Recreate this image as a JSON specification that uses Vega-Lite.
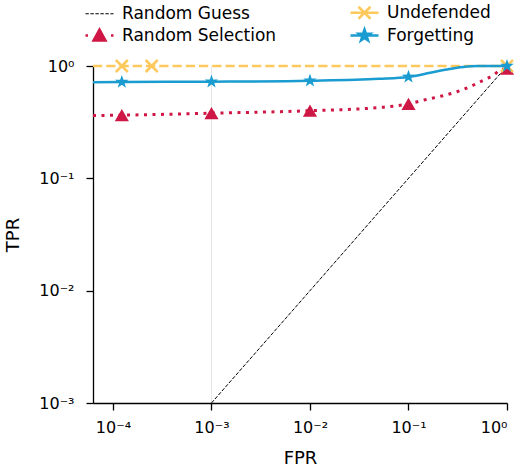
{
  "$schema": "https://vega.github.io/schema/vega-lite/v6.json",
  "autosize": {"type": "none"},
  "padding": {"left": 93, "top": 66, "right": 14, "bottom": 64},
  "width": 414,
  "height": 337,
  "background": "white",
  "config": {
    "view": {"stroke": null},
    "font": "DejaVu Sans",
    "axis": {
      "grid": false,
      "domainColor": "black",
      "domainWidth": 1.3,
      "tickColor": "black",
      "tickWidth": 1.3,
      "tickSize": 7,
      "labelFont": "DejaVu Sans",
      "labelFontSize": 16,
      "labelColor": "black",
      "titleFont": "DejaVu Sans",
      "titleFontSize": 18,
      "titleFontWeight": "normal",
      "titleColor": "black"
    },
    "legend": {
      "orient": "none",
      "legendX": -5,
      "legendY": -65,
      "columns": 2,
      "columnPadding": 68,
      "rowPadding": -3,
      "symbolSize": 400,
      "labelFont": "DejaVu Sans",
      "labelFontSize": 17,
      "labelColor": "black",
      "labelOffset": 11,
      "labelLimit": 400
    }
  },
  "datasets": {
    "curves": [
      {"series": "Random Guess", "fpr": 0.001, "tpr": 0.001},
      {"series": "Random Guess", "fpr": 1, "tpr": 1},
      {"series": "Random Selection", "fpr": 0.0000627, "tpr": 0.362},
      {"series": "Random Selection", "fpr": 0.000123, "tpr": 0.365},
      {"series": "Random Selection", "fpr": 0.001, "tpr": 0.38},
      {"series": "Random Selection", "fpr": 0.01, "tpr": 0.40},
      {"series": "Random Selection", "fpr": 0.056, "tpr": 0.43},
      {"series": "Random Selection", "fpr": 0.1, "tpr": 0.46},
      {"series": "Random Selection", "fpr": 0.147, "tpr": 0.50},
      {"series": "Random Selection", "fpr": 0.217, "tpr": 0.54},
      {"series": "Random Selection", "fpr": 0.31, "tpr": 0.59},
      {"series": "Random Selection", "fpr": 0.43, "tpr": 0.66},
      {"series": "Random Selection", "fpr": 0.51, "tpr": 0.71},
      {"series": "Random Selection", "fpr": 0.62, "tpr": 0.77},
      {"series": "Random Selection", "fpr": 0.73, "tpr": 0.83},
      {"series": "Random Selection", "fpr": 0.835, "tpr": 0.91},
      {"series": "Random Selection", "fpr": 1, "tpr": 0.95},
      {"series": "Undefended", "fpr": 0.0000627, "tpr": 1},
      {"series": "Undefended", "fpr": 1, "tpr": 1},
      {"series": "Forgetting", "fpr": 0.0000627, "tpr": 0.716},
      {"series": "Forgetting", "fpr": 0.000123, "tpr": 0.72},
      {"series": "Forgetting", "fpr": 0.001, "tpr": 0.725},
      {"series": "Forgetting", "fpr": 0.01, "tpr": 0.74},
      {"series": "Forgetting", "fpr": 0.05, "tpr": 0.77},
      {"series": "Forgetting", "fpr": 0.1, "tpr": 0.80},
      {"series": "Forgetting", "fpr": 0.166, "tpr": 0.87},
      {"series": "Forgetting", "fpr": 0.245, "tpr": 0.93},
      {"series": "Forgetting", "fpr": 0.36, "tpr": 0.98},
      {"series": "Forgetting", "fpr": 0.5, "tpr": 1.0},
      {"series": "Forgetting", "fpr": 1, "tpr": 1.0}
    ],
    "markers": [
      {"series": "Random Selection", "fpr": 0.000123, "tpr": 0.365},
      {"series": "Random Selection", "fpr": 0.001, "tpr": 0.38},
      {"series": "Random Selection", "fpr": 0.01, "tpr": 0.40},
      {"series": "Random Selection", "fpr": 0.1, "tpr": 0.46},
      {"series": "Random Selection", "fpr": 1, "tpr": 0.95},
      {"series": "Undefended", "fpr": 0.000123, "tpr": 1},
      {"series": "Undefended", "fpr": 0.000247, "tpr": 1},
      {"series": "Undefended", "fpr": 1, "tpr": 1},
      {"series": "Forgetting", "fpr": 0.000123, "tpr": 0.72},
      {"series": "Forgetting", "fpr": 0.001, "tpr": 0.725},
      {"series": "Forgetting", "fpr": 0.01, "tpr": 0.74},
      {"series": "Forgetting", "fpr": 0.1, "tpr": 0.80},
      {"series": "Forgetting", "fpr": 1, "tpr": 1.0}
    ],
    "grid": [{"fpr": 0.001}]
  },
  "encoding": {
    "x": {
      "field": "fpr", "type": "quantitative",
      "scale": {"type": "log", "domain": [0.0000627, 1], "nice": false},
      "axis": {
        "title": "FPR",
        "values": [0.0001, 0.001, 0.01, 0.1, 1],
        "labelPadding": 9,
        "titlePadding": 14,
        "labelExpr": "datum.value >= 0.99 ? '10⁰' : datum.value >= 0.099 ? '10⁻¹' : datum.value >= 0.0099 ? '10⁻²' : datum.value >= 0.00099 ? '10⁻³' : '10⁻⁴'"
      }
    },
    "y": {
      "field": "tpr", "type": "quantitative",
      "scale": {"type": "log", "domain": [0.001, 1], "nice": false},
      "axis": {
        "title": "TPR",
        "values": [0.001, 0.01, 0.1, 1],
        "labelPadding": 12,
        "titlePadding": 16,
        "labelExpr": "datum.value >= 0.99 ? '10⁰' : datum.value >= 0.099 ? '10⁻¹' : datum.value >= 0.0099 ? '10⁻²' : '10⁻³'"
      }
    }
  },
  "layer": [
    {
      "data": {"name": "grid"},
      "mark": {"type": "rule", "color": "#e6e6e6", "strokeWidth": 1},
      "encoding": {"x": {"field": "fpr", "type": "quantitative"}, "y": null}
    },
    {
      "data": {"name": "curves"},
      "transform": [{"filter": "datum.series === 'Random Guess'"}],
      "mark": {"type": "line", "color": "#000000", "strokeWidth": 1, "strokeDash": [3.7, 1.6]},
      "encoding": {"detail": {"field": "series", "type": "nominal"}}
    },
    {
      "data": {"name": "curves"},
      "transform": [{"filter": "datum.series === 'Random Selection'"}],
      "mark": {"type": "line", "color": "#cf1745", "strokeWidth": 3, "strokeDash": [3, 5.5], "interpolate": "monotone"},
      "encoding": {"detail": {"field": "series", "type": "nominal"}}
    },
    {
      "data": {"name": "markers"},
      "transform": [{"filter": "datum.series === 'Random Selection'"}],
      "mark": {"type": "point", "color": "#cf1745", "shape": "triangle-up", "size": 200, "filled": true, "opacity": 1}
    },
    {
      "data": {"name": "curves"},
      "transform": [{"filter": "datum.series === 'Undefended'"}],
      "mark": {"type": "line", "color": "#fec95c", "strokeWidth": 2.5, "strokeDash": [9.25, 4]},
      "encoding": {"detail": {"field": "series", "type": "nominal"}}
    },
    {
      "data": {"name": "markers"},
      "transform": [{"filter": "datum.series === 'Undefended'"}],
      "mark": {"type": "point", "color": "#fec95c", "shape": "M-1,-1L1,1M-1,1L1,-1", "size": 144, "filled": false, "strokeWidth": 2.5, "opacity": 1}
    },
    {
      "data": {"name": "curves"},
      "transform": [{"filter": "datum.series === 'Forgetting'"}],
      "mark": {"type": "line", "color": "#1a9cd0", "strokeWidth": 2.5, "interpolate": "monotone"},
      "encoding": {"detail": {"field": "series", "type": "nominal"}}
    },
    {
      "data": {"name": "markers"},
      "transform": [{"filter": "datum.series === 'Forgetting'"}],
      "mark": {"type": "point", "color": "#1a9cd0", "shape": "M0,-1L0.235,-0.324L0.951,-0.309L0.38,0.124L0.588,0.809L0,0.4L-0.588,0.809L-0.38,0.124L-0.951,-0.309L-0.235,-0.324Z", "size": 200, "filled": true, "opacity": 1}
    },
    {
      "data": {"name": "markers"},
      "transform": [{"filter": "datum.fpr < 0"}],
      "mark": {"type": "point", "filled": true, "opacity": 1},
      "encoding": {
        "color": {
          "field": "series", "type": "nominal",
          "scale": {
            "domain": ["Random Guess", "Random Selection", "Undefended", "Forgetting"],
            "range": ["#000000", "#cf1745", "#fec95c", "#1a9cd0"]
          },
          "legend": {"title": null}
        },
        "stroke": {
          "field": "series", "type": "nominal",
          "scale": {
            "domain": ["Random Guess", "Random Selection", "Undefended", "Forgetting"],
            "range": ["#000000", "#cf1745", "#fec95c", "#1a9cd0"]
          },
          "legend": {"title": null}
        },
        "strokeWidth": {
          "field": "series", "type": "nominal",
          "scale": {
            "type": "ordinal",
            "domain": ["Random Guess", "Random Selection", "Undefended", "Forgetting"],
            "range": [1, 2.5, 2.5, 2.5]
          },
          "legend": {"title": null}
        },
        "shape": {
          "field": "series", "type": "nominal",
          "scale": {
            "domain": ["Random Guess", "Random Selection", "Undefended", "Forgetting"],
            "range": [
              "M-1.4,0H-1.07M-0.91,0H-0.57M-0.41,0H-0.07M0.09,0H0.43M0.59,0H0.93M1.09,0H1.4",
              "M-1.4,0H-1.15M1.15,0H1.4M-0.6,0.5L0,-0.6L0.6,0.5Z",
              "M-1.4,0H1.4M-0.6,-0.6L0.6,0.6M-0.6,0.6L0.6,-0.6",
              "M-1.4,0H1.4M0,-0.6L0.141,-0.194L0.571,-0.185L0.228,0.074L0.353,0.485L0,0.24L-0.353,0.485L-0.228,0.074L-0.571,-0.185L-0.141,-0.194Z"
            ]
          },
          "legend": {"title": null}
        }
      }
    }
  ]
}
